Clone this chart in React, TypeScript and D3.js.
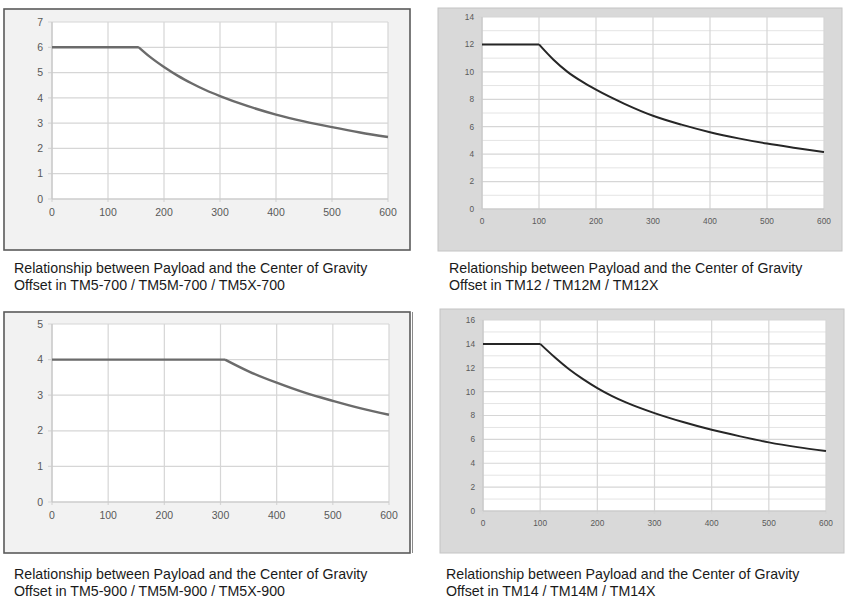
import React from "react";
import * as d3 from "d3";

// ---- data ----
const xTicks = [0, 100, 200, 300, 400, 500, 600];

const tm5_700_x = [0, 155, 175, 200, 225, 250, 275, 300, 350, 400, 450, 500, 550, 600];
const tm5_700_y = [6, 6, 5.62, 5.22, 4.87, 4.57, 4.3, 4.07, 3.67, 3.34, 3.07, 2.84, 2.63, 2.45];

const tm12_x = [0, 100, 125, 150, 175, 200, 250, 300, 350, 400, 450, 500, 550, 600];
const tm12_y = [12, 12, 10.9, 10.0, 9.3, 8.7, 7.67, 6.8, 6.15, 5.6, 5.15, 4.77, 4.45, 4.15];

const tm5_900_x = [0, 308, 350, 400, 450, 500, 550, 600];
const tm5_900_y = [4, 4, 3.67, 3.35, 3.07, 2.84, 2.63, 2.45];

const tm14_x = [0, 100, 125, 150, 175, 200, 225, 250, 300, 350, 400, 450, 500, 550, 600];
const tm14_y = [14, 14, 12.9, 11.9, 11.05, 10.3, 9.65, 9.1, 8.2, 7.45, 6.8, 6.25, 5.75, 5.35, 5.02];

const titles = [
  ["Relationship between Payload and the Center of Gravity", "Offset in TM5-700 / TM5M-700 / TM5X-700"],
  ["Relationship between Payload and the Center of Gravity", "Offset in TM12 / TM12M / TM12X"],
  ["Relationship between Payload and the Center of Gravity", "Offset in TM5-900 / TM5M-900 / TM5X-900"],
  ["Relationship between Payload and the Center of Gravity", "Offset in TM14 / TM14M / TM14X"],
];

type Panel = {
  frame: [number, number, number, number];
  plot: [number, number, number, number];
  yMax: number;
  major: number;
  minor: number;
  xs: number[];
  ys: number[];
  bg: string;
  border: string;
  borderW: number;
  lineColor: string;
  lineW: number;
  font: number;
  title: string[];
  titleX: number;
  titleY: number;
  extraRight?: boolean;
};

const panels: Panel[] = [
  {
    frame: [4, 9, 410, 250], plot: [52, 22, 388, 199], yMax: 7, major: 1, minor: 0,
    xs: tm5_700_x, ys: tm5_700_y, bg: "#f2f2f2", border: "#5a5a5a", borderW: 1.6,
    lineColor: "#6b6b6b", lineW: 2.4, font: 10.5, title: titles[0], titleX: 14, titleY: 273,
  },
  {
    frame: [438, 8, 842, 251], plot: [482, 17, 824, 209], yMax: 14, major: 2, minor: 1,
    xs: tm12_x, ys: tm12_y, bg: "#d9d9d9", border: "#c4c4c4", borderW: 1,
    lineColor: "#262626", lineW: 2, font: 8.3, title: titles[1], titleX: 449, titleY: 273,
  },
  {
    frame: [4, 312, 410, 553], plot: [52, 324, 389, 502], yMax: 5, major: 1, minor: 0,
    xs: tm5_900_x, ys: tm5_900_y, bg: "#f2f2f2", border: "#5a5a5a", borderW: 1.6,
    lineColor: "#6b6b6b", lineW: 2.4, font: 10.5, title: titles[2], titleX: 14, titleY: 579,
    extraRight: true,
  },
  {
    frame: [440, 309, 844, 553], plot: [483, 320, 826, 511], yMax: 16, major: 2, minor: 1,
    xs: tm14_x, ys: tm14_y, bg: "#d9d9d9", border: "#c4c4c4", borderW: 1,
    lineColor: "#262626", lineW: 2, font: 8.3, title: titles[3], titleX: 446, titleY: 579,
  },
];

function ChartPanel({ p }: { p: Panel }) {
  const [fx0, fy0, fx1, fy1] = p.frame;
  const [px0, py0, px1, py1] = p.plot;
  const x = d3.scaleLinear().domain([0, 600]).range([px0, px1]);
  const y = d3.scaleLinear().domain([0, p.yMax]).range([py1, py0]);
  const majorTicks = d3.range(0, p.yMax + 0.001, p.major);
  const minorTicks = p.minor ? d3.range(0, p.yMax + 0.001, p.minor).filter((v) => v % p.major !== 0) : [];
  const pts: [number, number][] = p.xs.map((v, i) => [v, p.ys[i]]);
  const flat = pts.slice(0, 2);
  const decay = pts.slice(1);
  const lineFlat = d3.line<[number, number]>().x((d) => x(d[0])).y((d) => y(d[1]));
  const lineDecay = d3
    .line<[number, number]>()
    .x((d) => x(d[0]))
    .y((d) => y(d[1]))
    .curve(d3.curveMonotoneX);
  const d = (lineFlat(flat) || "") + (lineDecay(decay) || "");
  const small = p.font < 9;
  return (
    <g>
      <rect x={fx0} y={fy0} width={fx1 - fx0} height={fy1 - fy0} fill={p.bg} stroke={p.border} strokeWidth={p.borderW} />
      {p.extraRight && <line x1={fx1 + 2.5} x2={fx1 + 2.5} y1={fy0} y2={fy1} stroke="#8a8a8a" strokeWidth={1} />}
      <rect x={px0} y={py0} width={px1 - px0} height={py1 - py0} fill="#ffffff" />
      {minorTicks.map((v) => (
        <line key={"mn" + v} x1={px0} x2={px1} y1={y(v)} y2={y(v)} stroke="#e4e4e4" strokeWidth={1} />
      ))}
      {majorTicks.map((v) => (
        <line key={"mj" + v} x1={px0 - 4} x2={px1} y1={y(v)} y2={y(v)} stroke="#d6d6d6" strokeWidth={1.2} />
      ))}
      {xTicks.map((v) => (
        <line key={"vx" + v} x1={x(v)} x2={x(v)} y1={py0} y2={py1 + 3} stroke="#d6d6d6" strokeWidth={1.2} />
      ))}
      <line x1={px0} x2={px0} y1={py0} y2={py1} stroke="#c8c8c8" strokeWidth={1.2} />
      <line x1={px0} x2={px1} y1={py1} y2={py1} stroke="#c8c8c8" strokeWidth={1.2} />
      <path d={d} fill="none" stroke={p.lineColor} strokeWidth={p.lineW} strokeLinejoin="round" />
      {majorTicks.map((v) => (
        <text
          key={"yl" + v}
          x={px0 - (small ? 8 : 9)}
          y={y(v)}
          dy="0.35em"
          textAnchor="end"
          fontSize={p.font}
          fill="#595959"
          fontFamily="Liberation Sans, Arial, sans-serif"
        >
          {v}
        </text>
      ))}
      {xTicks.map((v) => (
        <text
          key={"xl" + v}
          x={x(v)}
          y={py1 + (small ? 12 : 13)}
          dy="0.35em"
          textAnchor="middle"
          fontSize={p.font}
          fill="#595959"
          fontFamily="Liberation Sans, Arial, sans-serif"
        >
          {v}
        </text>
      ))}
      {p.title.map((t, i) => (
        <text
          key={"t" + i}
          x={p.titleX}
          y={p.titleY + i * 16.5}
          fontSize={14.2}
          fill="#1a1a1a"
          fontFamily="Liberation Sans, Arial, sans-serif"
        >
          {t}
        </text>
      ))}
    </g>
  );
}

export default function App() {
  return (
    <svg
      width={861}
      height={601}
      viewBox="0 0 861 601"
      style={{ position: "absolute", left: 0, top: 0, background: "#ffffff" }}
    >
      <rect x={0} y={0} width={861} height={601} fill="#ffffff" />
      {panels.map((p, i) => (
        <ChartPanel key={i} p={p} />
      ))}
    </svg>
  );
}
